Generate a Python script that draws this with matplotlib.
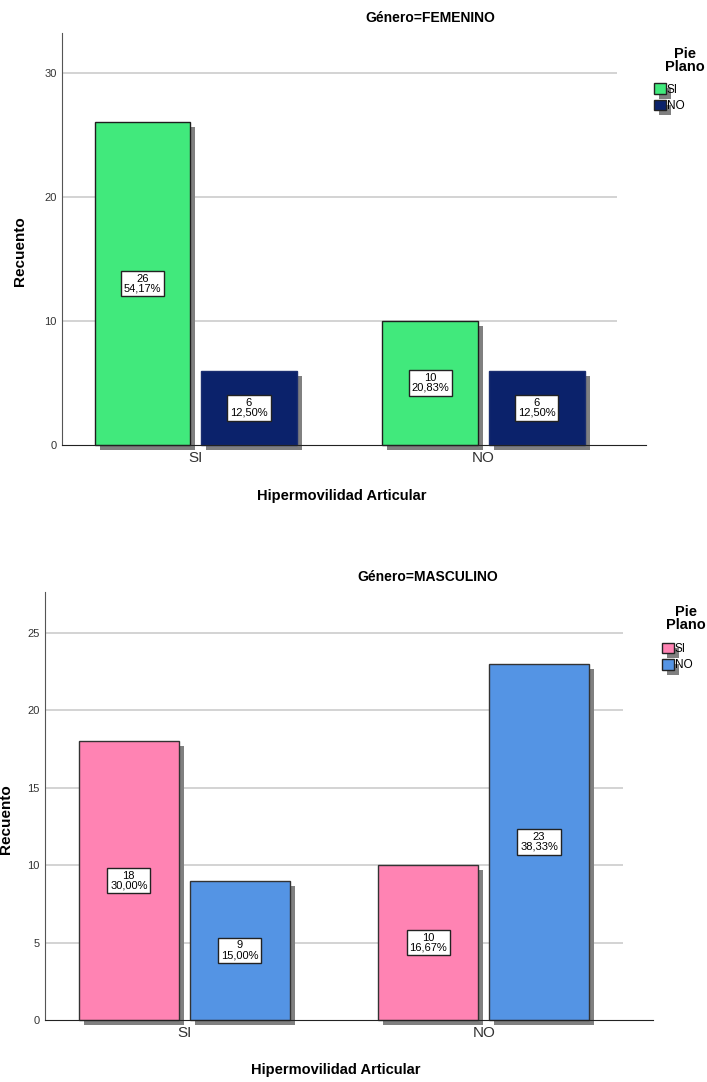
import matplotlib
matplotlib.use("Agg")
import matplotlib.pyplot as plt
import matplotlib.patheffects as pe
from matplotlib.patches import Patch

plt.rcParams['font.family'] = ['Liberation Sans', 'DejaVu Sans']

# Datos
categorias = ['SI', 'NO']
series = ['SI', 'NO']

fem_si = [26, 10]
fem_no = [6, 6]
fem_pct_si = ['54,17%', '20,83%']
fem_pct_no = ['12,50%', '12,50%']

mas_si = [18, 10]
mas_no = [9, 23]
mas_pct_si = ['30,00%', '16,67%']
mas_pct_no = ['15,00%', '38,33%']

fem_colores = ['#41E97C', '#0B226B']
fem_bordes = ['#1E1E1E', '#1B2E70']
mas_colores = ['#FF83B3', '#5494E4']
mas_bordes = ['#333333', '#333333']

sombra = [pe.SimplePatchShadow(offset=(3.6, -3.6), shadow_rgbFace='#808080', alpha=1),
          pe.Normal()]

fig = plt.figure(figsize=(7.07, 10.82), dpi=100)


def panel(rect, titulo, v_si, v_no, p_si, p_no, colores, bordes, ymax, yticks,
          ylab_x, xlab_y, leg_title_xy, leg_xy):
    ax = fig.add_axes(rect)
    ancho = 0.333
    desp = 0.185
    x = list(range(len(categorias)))
    for vals, pcts, col, ec, d, nombre in [
            (v_si, p_si, colores[0], bordes[0], -desp, series[0]),
            (v_no, p_no, colores[1], bordes[1], desp, series[1])]:
        xs = [xi + d for xi in x]
        bars = ax.bar(xs, vals, width=ancho, color=col, edgecolor=ec, linewidth=1,
                      zorder=3, clip_on=False, label=nombre)
        for b in bars:
            b.set_path_effects(sombra)
        for xi, v, p in zip(xs, vals, pcts):
            ax.text(xi, v / 2, f'{v}\n{p}', ha='center', va='center', fontsize=8,
                    linespacing=1.0, zorder=5,
                    bbox=dict(boxstyle='square,pad=0.25', fc='white', ec='#222222', lw=1))
    ax.set_xlim(-0.465, 1.565)
    ax.set_ylim(0, ymax)
    ax.hlines([t for t in yticks if t > 0], -0.465, 1.465, color='#D0D0D0', lw=1.3, zorder=1)
    ax.set_yticks(yticks)
    ax.set_xticks(x)
    ax.set_xticklabels(categorias, fontsize=11, color='#333333')
    ax.tick_params(axis='y', length=0, labelsize=8, labelcolor='#333333', pad=4)
    ax.tick_params(axis='x', length=0, pad=4)
    for s in ['top', 'right']:
        ax.spines[s].set_visible(False)
    ax.spines['left'].set_color('#555555')
    ax.spines['bottom'].set_color('#222222')
    ax.spines['left'].set_zorder(6)
    ax.spines['bottom'].set_zorder(6)
    ax.set_ylabel('Recuento', fontsize=11, fontweight='bold')
    ax.yaxis.set_label_coords(ylab_x, 0.47)
    ax.set_xlabel('Hipermovilidad Articular', fontsize=10.5, fontweight='bold')
    ax.xaxis.set_label_coords(0.479, xlab_y)
    ax.text(0.63, 1.036, titulo, transform=ax.transAxes, ha='center', va='center',
            fontsize=10, fontweight='bold')
    fig.text(leg_title_xy[0], leg_title_xy[1], 'Pie\nPlano', ha='center', va='top',
             fontsize=10.5, fontweight='bold', linespacing=0.95)
    handles = [Patch(facecolor=colores[i], edgecolor='#222222', linewidth=1,
                     path_effects=sombra) for i in range(2)]
    fig.legend(handles, series, loc='upper left', bbox_to_anchor=leg_xy,
               frameon=False, fontsize=8.5, handlelength=1.0, handleheight=1.0,
               handletextpad=0.1, labelspacing=0.35, borderpad=0, borderaxespad=0)
    return ax


panel([0.0877, 0.5887, 0.826, 0.3808], 'Género=FEMENINO', fem_si, fem_no,
      fem_pct_si, fem_pct_no, fem_colores, fem_bordes, 33.2, [0, 10, 20, 30],
      -0.06, -0.107, (0.969, 0.957), (0.925, 0.923))
panel([0.0636, 0.0573, 0.86, 0.3956], 'Género=MASCULINO', mas_si, mas_no,
      mas_pct_si, mas_pct_no, mas_colores, mas_bordes, 27.64, [0, 5, 10, 15, 20, 25],
      -0.052, -0.1, (0.97, 0.441), (0.936, 0.406))

fig.savefig('out.png', dpi=100)
